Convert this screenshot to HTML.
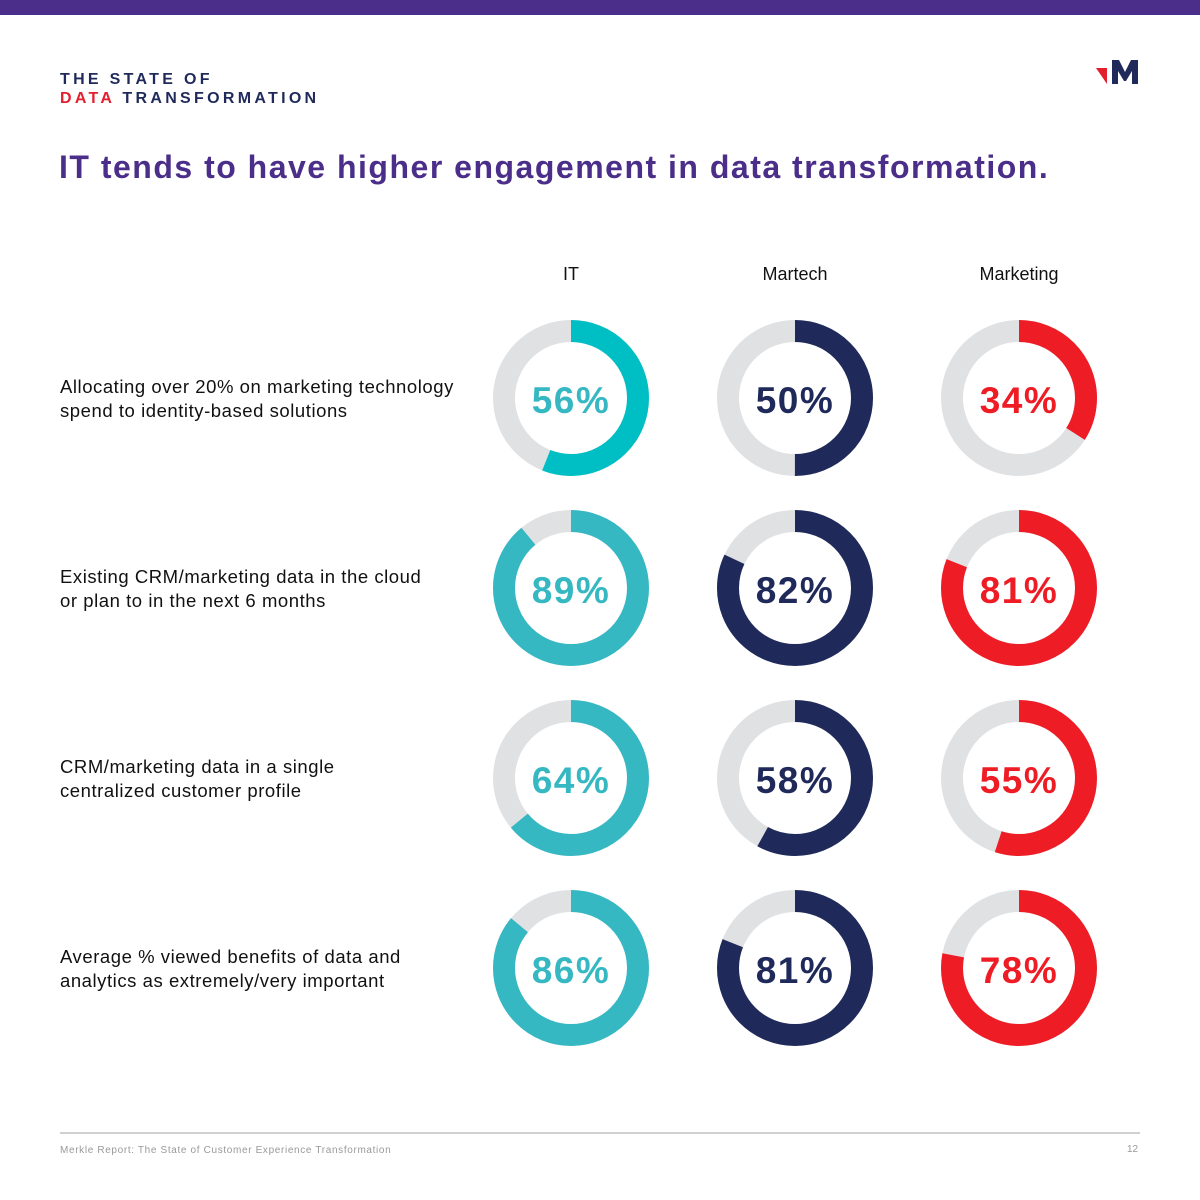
<!DOCTYPE html>
<html><head><meta charset="utf-8">
<style>
body{margin:0;width:1200px;height:1200px;background:#fff;font-family:"Liberation Sans",sans-serif;position:relative;overflow:hidden}
.abs{position:absolute}
</style></head>
<body>
<div class="abs" style="left:0;top:0;width:1200px;height:15px;background:#4B2E89"></div>
<div class="abs" style="left:60px;top:70px;font-weight:bold;font-size:16px;letter-spacing:3.3px;line-height:19px;color:#1F2A5A">THE STATE OF<br><span style="color:#E31E2D">DATA</span> TRANSFORMATION</div>
<svg class="abs" style="left:1095px;top:60px" width="50" height="28">
<polygon points="1,8 12,8 12,24" fill="#E31E2D"/>
<polygon points="17,0 24,0 30,12 36,0 43,0 43,24 37,24 37,11 31,21 29,21 23,11 23,24 17,24" fill="#1F2A5A"/>
</svg>
<div class="abs" style="left:59px;top:149px;font-weight:bold;font-size:32px;letter-spacing:1.5px;color:#4B2E89">IT tends to have higher engagement in data transformation.</div>
<svg id="chart" class="abs" style="left:0;top:0" width="1200" height="1120"></svg>
<div class="abs" style="left:60px;top:1132px;width:1080px;height:2px;background:#D0D0D0"></div>
<div class="abs" style="left:60px;top:1145px;font-size:10px;letter-spacing:0.65px;color:#999">Merkle Report: The State of Customer Experience Transformation</div>
<div class="abs" style="left:1127px;top:1144px;font-size:10px;color:#999">12</div>
<script>
const groups = ["IT","Martech","Marketing"];
const rowsText = [
 ["Allocating over 20% on marketing technology","spend to identity-based solutions"],
 ["Existing CRM/marketing data in the cloud","or plan to in the next 6 months"],
 ["CRM/marketing data in a single","centralized customer profile"],
 ["Average % viewed benefits of data and","analytics as extremely/very important"]
];
const itValues = [56,89,64,86];
const martechValues = [50,82,58,81];
const marketingValues = [34,81,55,78];
const series = [itValues, martechValues, marketingValues];
const colors = ["#36B8C3","#1F2A5A","#EE1C25"];
const firstItColor = "#00BFC4";
const svg = document.getElementById('chart');
const NS = "http://www.w3.org/2000/svg";
const colX = i => 571 + i*224;
const rowY = j => 398 + j*190;
const R = 67, W = 22;
function el(tag, attrs){const e=document.createElementNS(NS,tag);for(const k in attrs)e.setAttribute(k,attrs[k]);svg.appendChild(e);return e;}
groups.forEach((g,i)=>{
  const t = el('text',{x:colX(i),y:280,'text-anchor':'middle','font-size':18,fill:'#111','font-family':'Liberation Sans, sans-serif'});
  t.textContent = g;
  
  
});
rowsText.forEach((lines,j)=>{
  const t = el('text',{x:60,y:rowY(j)-5,'font-size':18.5,'letter-spacing':0.55,fill:'#111','font-family':'Liberation Sans, sans-serif'});
  
  
  lines.forEach((ln,k)=>{const s=document.createElementNS(NS,'tspan');s.setAttribute('x',60);s.setAttribute('dy',k?24:0);s.textContent=ln;t.appendChild(s);});
});
const C = 2*Math.PI*R;
series.forEach((vals,i)=>{
  vals.forEach((v,j)=>{
    const cx=colX(i), cy=rowY(j);
    const col = (i===0&&j===0)?firstItColor:colors[i];
    const bg = el('circle',{cx,cy,r:R,fill:'none',stroke:'#E0E1E3','stroke-width':W});
    
    
    const arc = el('circle',{cx,cy,r:R,fill:'none',stroke:col,'stroke-width':W,'stroke-dasharray':(C*v/100)+' '+C,transform:`rotate(-90 ${cx} ${cy})`});
    
    
    const t = el('text',{x:cx,y:cy+15,'text-anchor':'middle','font-size':37,'letter-spacing':1.5,'font-weight':'bold',fill:colors[i],'font-family':'Liberation Sans, sans-serif'});
    t.textContent = v+'%';
    
    
  });
});
</script>
</body></html>
